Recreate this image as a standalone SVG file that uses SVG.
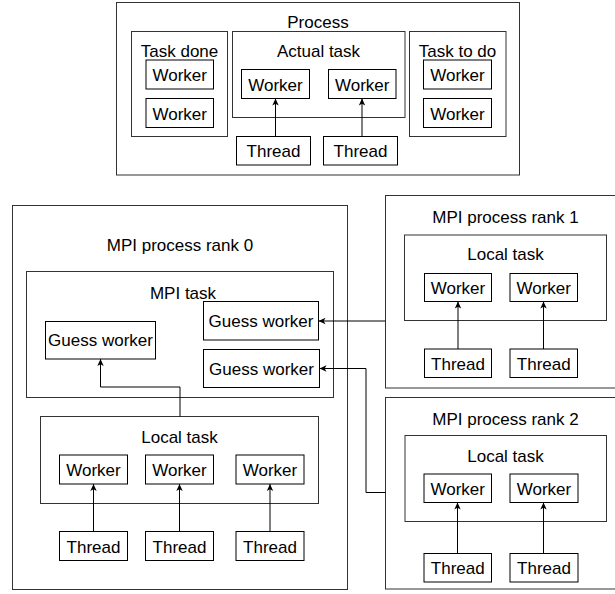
<svg xmlns="http://www.w3.org/2000/svg" width="615" height="594" viewBox="0 0 615 594">
<defs>
<marker id="arr" markerWidth="8" markerHeight="8" refX="7" refY="4" orient="auto" markerUnits="userSpaceOnUse">
<path d="M0,0.8 L7,4 L0,7.2 L1.8,4 Z" fill="#000"/>
</marker>
<style>
.c{fill:#fff;stroke:#333;stroke-width:1}
.b{fill:#fff;stroke:#000;stroke-width:1}
text{font-family:"Liberation Sans",Arial,Helvetica,sans-serif;font-size:17px;fill:#000;text-anchor:middle}
.e{fill:none;stroke:#000;stroke-width:1}
</style>
</defs>
<rect width="615" height="594" fill="#fff"/>

<g id="process">
<rect class="c" x="116.5" y="2.5" width="403" height="172.5"/>
<text x="318" y="28">Process</text>
</g>
<g id="task-done">
<rect class="c" x="131.5" y="31.5" width="96" height="105"/>
<text x="179.5" y="57">Task done</text>
</g>
<g id="done-worker-1"><rect class="b" x="146" y="60" width="67.5" height="29"/><text x="179.75" y="81">Worker</text></g>
<g id="done-worker-2"><rect class="b" x="146" y="98.5" width="67.5" height="29"/><text x="179.75" y="119.5">Worker</text></g>
<g id="actual-task">
<rect class="c" x="232.5" y="31.5" width="172.5" height="86"/>
<text x="318.5" y="57">Actual task</text>
</g>
<g id="actual-worker-1"><rect class="b" x="241.5" y="69.5" width="68" height="29"/><text x="275.5" y="90.5">Worker</text></g>
<g id="actual-worker-2"><rect class="b" x="328.5" y="69.5" width="67.5" height="29"/><text x="362.25" y="90.5">Worker</text></g>
<g id="top-thread-1"><rect class="b" x="236.5" y="136.5" width="74" height="28.5"/><text x="273.5" y="157">Thread</text></g>
<g id="top-thread-2"><rect class="b" x="323.5" y="136.5" width="74" height="28.5"/><text x="360.5" y="157">Thread</text></g>
<g id="task-to-do">
<rect class="c" x="409.5" y="31.5" width="96.5" height="105"/>
<text x="457.5" y="57">Task to do</text>
</g>
<g id="todo-worker-1"><rect class="b" x="423.5" y="60" width="68" height="29"/><text x="457.5" y="81">Worker</text></g>
<g id="todo-worker-2"><rect class="b" x="423.5" y="98.5" width="68" height="29"/><text x="457.5" y="119.5">Worker</text></g>

<g id="rank0">
<rect class="c" x="12.5" y="205.5" width="335" height="384"/>
<text x="180" y="251">MPI process rank 0</text>
</g>
<g id="mpi-task">
<rect class="c" x="26.5" y="271.5" width="307" height="126"/>
<text x="183" y="299">MPI task</text>
</g>
<g id="guess-worker-left"><rect class="b" x="45.5" y="321.5" width="110" height="37.5"/><text x="100.5" y="346">Guess worker</text></g>
<g id="guess-worker-r1"><rect class="b" x="203.5" y="301.5" width="115" height="38.5"/><text x="261" y="327">Guess worker</text></g>
<g id="guess-worker-r2"><rect class="b" x="203.5" y="349.5" width="116" height="38"/><text x="261.5" y="375">Guess worker</text></g>
<g id="local-task-0">
<rect class="c" x="40.5" y="416.5" width="278" height="87"/>
<text x="179.5" y="442.5">Local task</text>
</g>
<g id="r0-worker-1"><rect class="b" x="59.5" y="455" width="68" height="29"/><text x="93.5" y="476">Worker</text></g>
<g id="r0-worker-2"><rect class="b" x="145.5" y="455" width="68" height="29"/><text x="179.5" y="476">Worker</text></g>
<g id="r0-worker-3"><rect class="b" x="236" y="455" width="68" height="29"/><text x="270" y="476">Worker</text></g>
<g id="r0-thread-1"><rect class="b" x="59.5" y="531.5" width="68" height="29"/><text x="93.5" y="552.5">Thread</text></g>
<g id="r0-thread-2"><rect class="b" x="145.5" y="531.5" width="68" height="29"/><text x="179.5" y="552.5">Thread</text></g>
<g id="r0-thread-3"><rect class="b" x="236" y="531.5" width="68" height="29"/><text x="270" y="552.5">Thread</text></g>

<g id="rank1">
<rect class="c" x="385.5" y="195.5" width="240" height="192.5"/>
<text x="505.5" y="222.5">MPI process rank 1</text>
</g>
<g id="local-task-1">
<rect class="c" x="404.5" y="235" width="202" height="85.5"/>
<text x="505.5" y="260">Local task</text>
</g>
<g id="r1-worker-1"><rect class="b" x="424.5" y="273.5" width="67" height="28"/><text x="458" y="294">Worker</text></g>
<g id="r1-worker-2"><rect class="b" x="510" y="273.5" width="67.5" height="28"/><text x="543.75" y="294">Worker</text></g>
<g id="r1-thread-1"><rect class="b" x="424.5" y="349" width="67" height="28.5"/><text x="458" y="369.5">Thread</text></g>
<g id="r1-thread-2"><rect class="b" x="510" y="349" width="67.5" height="28.5"/><text x="543.75" y="369.5">Thread</text></g>

<g id="rank2">
<rect class="c" x="385.5" y="397.5" width="240" height="191.5"/>
<text x="505.5" y="425">MPI process rank 2</text>
</g>
<g id="local-task-2">
<rect class="c" x="405" y="435.5" width="201.5" height="86"/>
<text x="505.5" y="462">Local task</text>
</g>
<g id="r2-worker-1"><rect class="b" x="424" y="474" width="67.5" height="28.5"/><text x="457.75" y="494.5">Worker</text></g>
<g id="r2-worker-2"><rect class="b" x="510" y="474" width="68" height="28.5"/><text x="544" y="494.5">Worker</text></g>
<g id="r2-thread-1"><rect class="b" x="424" y="553.5" width="67.5" height="28.5"/><text x="457.75" y="574">Thread</text></g>
<g id="r2-thread-2"><rect class="b" x="510" y="553.5" width="68" height="28.5"/><text x="544" y="574">Thread</text></g>

<g id="connectors">
<path class="e" d="M275.5,136.5 V98.5" marker-end="url(#arr)"/>
<path class="e" d="M362,136.5 V98.5" marker-end="url(#arr)"/>
<path class="e" d="M93.5,531.5 V484" marker-end="url(#arr)"/>
<path class="e" d="M179.5,531.5 V484" marker-end="url(#arr)"/>
<path class="e" d="M270,531.5 V484" marker-end="url(#arr)"/>
<path class="e" d="M458,349 V301.5" marker-end="url(#arr)"/>
<path class="e" d="M543.5,349 V301.5" marker-end="url(#arr)"/>
<path class="e" d="M457.5,553.5 V502.5" marker-end="url(#arr)"/>
<path class="e" d="M543.5,553.5 V502.5" marker-end="url(#arr)"/>
<path class="e" d="M385.5,321 H318.5" marker-end="url(#arr)"/>
<path class="e" d="M385.5,492.5 H366 V368.5 H319.5" marker-end="url(#arr)"/>
<path class="e" d="M180,416.5 V387 H100.5 V359" marker-end="url(#arr)"/>
</g>
</svg>
